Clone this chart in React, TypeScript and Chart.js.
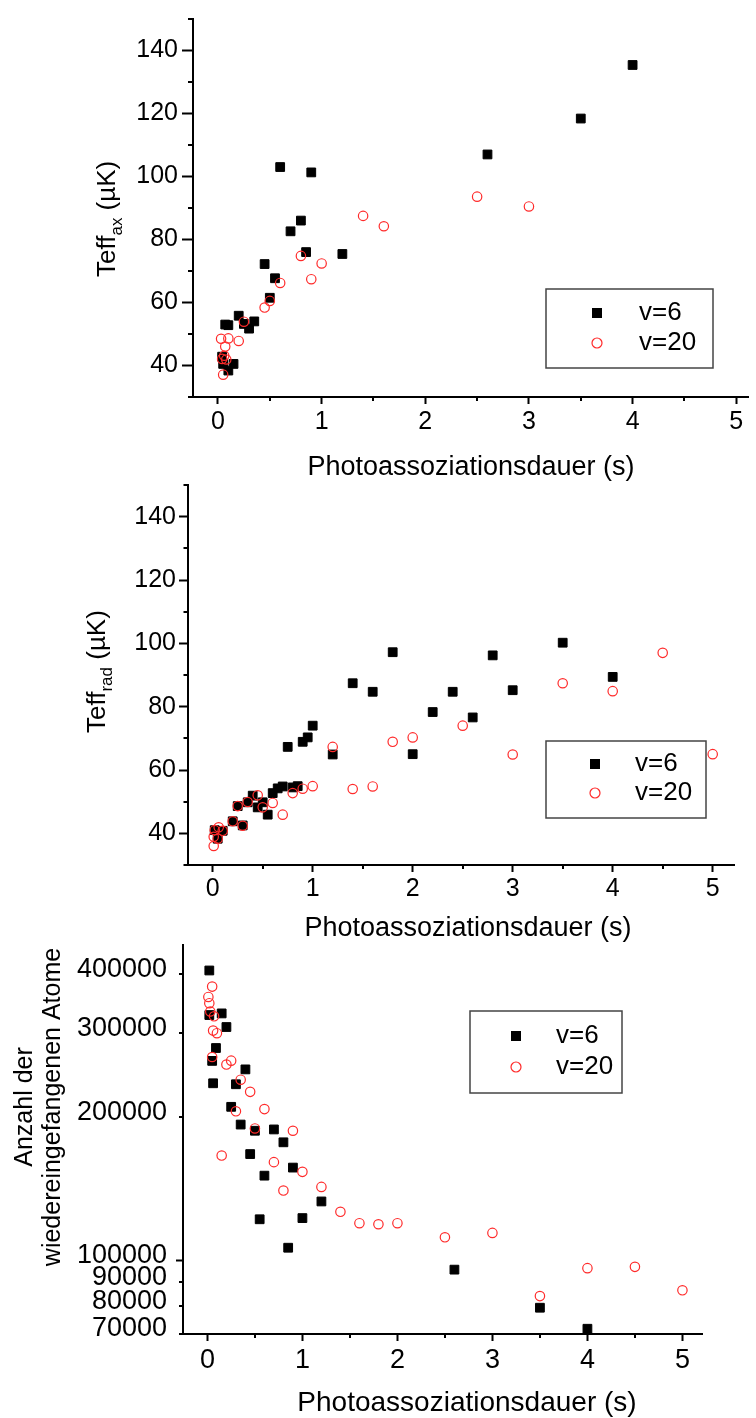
import React, { useEffect, useRef } from 'react';
import { Chart, registerables } from 'chart.js';

Chart.register(...registerables);

const FONT_FAMILY = '"Liberation Sans", Arial, Helvetica, sans-serif';
const RED = '#ff2a2a';
const PAGE_W = 756;

// Axial effective temperature (µK) vs. photoassociation time (s)
const axDurationV6 = [0.04, 0.05, 0.1, 0.15, 0.07, 0.1, 0.2, 0.25, 0.3, 0.35, 0.45, 0.5, 0.55, 0.6, 0.7, 0.8, 0.85, 0.9, 1.2, 2.6, 3.5, 4.0];
const axTempV6 = [42.8, 40.5, 38.4, 40.5, 53.0, 52.8, 55.8, 53.2, 51.7, 54.0, 72.2, 61.5, 67.7, 103.0, 82.6, 86.0, 76.0, 101.3, 75.4, 107.0, 118.4, 135.4];
const axDurationV20 = [0.03, 0.05, 0.04, 0.06, 0.07, 0.08, 0.1, 0.2, 0.25, 0.45, 0.5, 0.6, 0.8, 0.9, 1.0, 1.4, 1.6, 2.5, 3.0];
const axTempV20 = [48.5, 37.1, 42.1, 43.1, 46.0, 41.9, 48.6, 47.8, 53.9, 58.4, 60.5, 66.2, 74.8, 67.4, 72.4, 87.5, 84.2, 93.6, 90.5];

// Radial effective temperature (µK)
const radDurationV6 = [0.02, 0.05, 0.1, 0.2, 0.25, 0.3, 0.35, 0.4, 0.45, 0.5, 0.55, 0.6, 0.65, 0.7, 0.75, 0.8, 0.85, 0.9, 0.95, 1.0, 1.2, 1.4, 1.6, 1.8, 2.0, 2.2, 2.4, 2.6, 2.8, 3.0, 3.5, 4.0];
const radTempV6 = [41.0, 38.3, 40.8, 43.8, 48.6, 42.5, 49.8, 51.9, 48.2, 49.8, 45.9, 52.7, 54.2, 54.8, 67.3, 54.5, 54.9, 68.9, 70.3, 74.0, 64.9, 87.4, 84.7, 97.2, 65.0, 78.3, 84.7, 76.6, 96.2, 85.2, 100.2, 89.4];
const radDurationV20 = [0.01, 0.01, 0.05, 0.02, 0.06, 0.1, 0.2, 0.25, 0.3, 0.35, 0.45, 0.5, 0.6, 0.7, 0.8, 0.9, 1.0, 1.2, 1.4, 1.6, 1.8, 2.0, 2.5, 3.0, 3.5, 4.0, 4.5, 5.0];
const radTempV20 = [36.0, 38.9, 38.3, 41.0, 41.9, 40.8, 43.8, 48.6, 42.4, 49.9, 52.0, 48.2, 49.6, 45.9, 52.7, 54.1, 54.9, 67.3, 54.0, 54.8, 68.9, 70.3, 74.0, 64.9, 87.4, 84.9, 97.0, 65.0];

// Number of recaptured atoms
const atomsDurationV6 = [0.02, 0.02, 0.05, 0.06, 0.09, 0.15, 0.2, 0.25, 0.3, 0.35, 0.4, 0.45, 0.5, 0.55, 0.6, 0.7, 0.8, 0.85, 0.9, 1.0, 1.2, 2.6, 3.5, 4.0];
const atomsCountV6 = [407000, 328000, 262700, 235700, 279600, 330600, 309500, 210300, 234600, 193000, 252100, 167300, 187300, 122000, 150700, 188500, 177100, 106300, 156700, 122700, 133000, 95600, 79500, 71800];
const atomsDurationV20 = [0.01, 0.02, 0.03, 0.05, 0.05, 0.06, 0.07, 0.1, 0.15, 0.2, 0.25, 0.3, 0.35, 0.45, 0.5, 0.6, 0.7, 0.8, 0.9, 1.0, 1.2, 1.4, 1.6, 1.8, 2.0, 2.5, 3.0, 3.5, 4.0, 4.5, 5.0];
const atomsCountV20 = [358000, 347400, 333700, 376400, 267700, 304200, 326000, 300400, 166100, 258100, 263000, 205800, 239800, 226100, 189400, 208000, 160900, 140200, 187300, 153500, 142700, 126500, 119700, 119100, 119700, 111800, 114200, 84100, 96300, 96900, 86500];

// Axis ticks and labels
const durationTicks = [0, 1, 2, 3, 4, 5];
const durationMinorTicks = [0.5, 1.5, 2.5, 3.5, 4.5];
const tempTicks = [40, 60, 80, 100, 120, 140];
const tempMinorTicks = [30, 50, 70, 90, 110, 130, 150];
const atomTicks = [70000, 80000, 90000, 100000, 200000, 300000, 400000];
const atomMinorTicks = [70000, 80000, 90000, 200000, 300000, 400000];
const seriesLabels = ['v=6', 'v=20'];
const durationTitle = 'Photoassoziationsdauer (s)';
const axTitleParts = [
  { text: 'Teff', sub: false },
  { text: 'ax', sub: true },
  { text: ' (\u00b5K)', sub: false },
];
const radTitleParts = [
  { text: 'Teff', sub: false },
  { text: 'rad', sub: true },
  { text: ' (\u00b5K)', sub: false },
];
const atomsTitleLines = ['Anzahl der', 'wiedereingefangenen Atome'];

type TitlePart = { text: string; sub: boolean };

interface PanelSpec {
  top: number;
  height: number;
  area: { left: number; right: number; top: number; bottom: number };
  xRange: [number, number];
  yType: 'linear' | 'logarithmic';
  yRange: [number, number];
  yTicks: number[];
  yMinor: number[];
  yMajorLen: number;
  yMinorLen: number;
  yLabelPad: number;
  yLabelOffset: number;
  yMajorOnly?: number[];
  xMajorLen: number;
  xMinorLen: number;
  xLabelPad: number;
  tickSize: number;
  titleSize: number;
  xTitlePos: { x: number; y: number };
  yTitle: { x: number; y: number; parts?: TitlePart[]; lines?: string[]; lineXs?: number[]; size: number; subSize: number; subDrop: number };
  legend: { x0: number; y0: number; x1: number; y1: number; symX: number; rows: [number, number]; textX: number; size: number };
  v6: { x: number[]; y: number[] };
  v20: { x: number[]; y: number[] };
}

const panels: PanelSpec[] = [
  {
    top: 0,
    height: 490,
    area: { left: 193, right: 756, top: 11, bottom: 397 },
    xRange: [-0.241, 5.121],
    yType: 'linear',
    yRange: [30, 150],
    yTicks: tempTicks,
    yMinor: tempMinorTicks,
    yMajorLen: 11,
    yMinorLen: 5,
    yLabelPad: 4,
    yLabelOffset: 0,
    xMajorLen: 7,
    xMinorLen: 4,
    xLabelPad: 3,
    tickSize: 25,
    titleSize: 27,
    xTitlePos: { x: 471, y: 468 },
    yTitle: { x: 115, y: 277, parts: axTitleParts, size: 26, subSize: 17, subDrop: 7 },
    legend: { x0: 546, y0: 289, x1: 713, y1: 368, symX: 597, rows: [313, 343], textX: 639, size: 26 },
    v6: { x: axDurationV6, y: axTempV6 },
    v20: { x: axDurationV20, y: axTempV20 },
  },
  {
    top: 460,
    height: 490,
    area: { left: 188, right: 734, top: 25, bottom: 405 },
    xRange: [-0.247, 5.213],
    yType: 'linear',
    yRange: [30, 150],
    yTicks: tempTicks,
    yMinor: tempMinorTicks,
    yMajorLen: 9,
    yMinorLen: 4.5,
    yLabelPad: 3,
    yLabelOffset: 0,
    xMajorLen: 7,
    xMinorLen: 4,
    xLabelPad: 2,
    tickSize: 25,
    titleSize: 27,
    xTitlePos: { x: 468, y: 469 },
    yTitle: { x: 105, y: 273, parts: radTitleParts, size: 26, subSize: 17, subDrop: 7 },
    legend: { x0: 546, y0: 281, x1: 706, y1: 358, symX: 595, rows: [304, 333], textX: 635, size: 26 },
    v6: { x: radDurationV6, y: radTempV6 },
    v20: { x: radDurationV20, y: radTempV20 },
  },
  {
    top: 920,
    height: 498,
    area: { left: 183, right: 702, top: 13, bottom: 414 },
    xRange: [-0.257, 5.206],
    yType: 'logarithmic',
    yRange: [70000, 460000],
    yTicks: atomTicks,
    yMinor: atomMinorTicks,
    yMajorOnly: [100000],
    yMajorLen: 7,
    yMinorLen: 4,
    yLabelPad: 9,
    yLabelOffset: -5,
    xMajorLen: 7,
    xMinorLen: 4,
    xLabelPad: 3,
    tickSize: 27,
    titleSize: 28,
    xTitlePos: { x: 467, y: 483 },
    yTitle: { x: 0, y: 187, lines: atomsTitleLines, lineXs: [32, 60], size: 25, subSize: 0, subDrop: 0 },
    legend: { x0: 470, y0: 91, x1: 622, y1: 173, symX: 516, rows: [116, 147], textX: 556, size: 26 },
    v6: { x: atomsDurationV6, y: atomsCountV6 },
    v20: { x: atomsDurationV20, y: atomsCountV20 },
  },
];

function toPoints(xs: number[], ys: number[]) {
  return xs.map((x, i) => ({ x, y: ys[i] }));
}

function font(size: number) {
  return `${size}px ${FONT_FAMILY}`;
}

// Minor ticks, axis titles and the framed legend
function decorPlugin(spec: PanelSpec) {
  return {
    id: 'panelDecor',
    afterDraw(chart: any) {
      const { ctx, chartArea } = chart;
      const xs = chart.scales.x;
      const ys = chart.scales.y;
      ctx.save();

      ctx.strokeStyle = '#000';
      ctx.lineWidth = 2;
      ctx.beginPath();
      for (const v of durationMinorTicks) {
        const px = Math.round(xs.getPixelForValue(v));
        ctx.moveTo(px, chartArea.bottom);
        ctx.lineTo(px, chartArea.bottom + spec.xMinorLen);
      }
      for (const v of spec.yMinor) {
        const py = Math.round(ys.getPixelForValue(v));
        ctx.moveTo(chartArea.left - spec.yMinorLen, py);
        ctx.lineTo(chartArea.left, py);
      }
      ctx.stroke();

      ctx.fillStyle = '#000';
      ctx.font = font(spec.titleSize);
      ctx.textAlign = 'center';
      ctx.textBaseline = 'middle';
      ctx.fillText(durationTitle, spec.xTitlePos.x, spec.xTitlePos.y);

      const yt = spec.yTitle;
      if (yt.parts) {
        ctx.save();
        ctx.translate(yt.x, yt.y);
        ctx.rotate(-Math.PI / 2);
        ctx.textAlign = 'left';
        ctx.textBaseline = 'alphabetic';
        let cx = 0;
        for (const part of yt.parts) {
          ctx.font = font(part.sub ? yt.subSize : yt.size);
          ctx.fillText(part.text, cx, part.sub ? yt.subDrop : 0);
          cx += ctx.measureText(part.text).width;
        }
        ctx.restore();
      } else if (yt.lines && yt.lineXs) {
        yt.lines.forEach((line, i) => {
          ctx.save();
          ctx.translate(yt.lineXs![i], yt.y);
          ctx.rotate(-Math.PI / 2);
          ctx.font = font(yt.size);
          ctx.textAlign = 'center';
          ctx.textBaseline = 'alphabetic';
          ctx.fillText(line, 0, 0);
          ctx.restore();
        });
      }

      const lg = spec.legend;
      ctx.fillStyle = '#fff';
      ctx.fillRect(lg.x0, lg.y0, lg.x1 - lg.x0, lg.y1 - lg.y0);
      ctx.strokeStyle = '#444';
      ctx.lineWidth = 1.5;
      ctx.strokeRect(lg.x0, lg.y0, lg.x1 - lg.x0, lg.y1 - lg.y0);

      ctx.fillStyle = '#000';
      ctx.fillRect(lg.symX - 5, lg.rows[0] - 5, 10, 10);
      ctx.beginPath();
      ctx.arc(lg.symX, lg.rows[1], 5, 0, Math.PI * 2);
      ctx.strokeStyle = RED;
      ctx.lineWidth = 1.2;
      ctx.stroke();

      ctx.fillStyle = '#000';
      ctx.font = font(lg.size);
      ctx.textAlign = 'left';
      ctx.textBaseline = 'middle';
      ctx.fillText(seriesLabels[0], lg.textX, lg.rows[0]);
      ctx.fillText(seriesLabels[1], lg.textX, lg.rows[1]);

      ctx.restore();
    },
  };
}

function buildConfig(spec: PanelSpec): any {
  const a = spec.area;
  return {
    type: 'scatter',
    data: {
      datasets: [
        {
          label: seriesLabels[1],
          data: toPoints(spec.v20.x, spec.v20.y),
          order: 0,
          pointStyle: 'circle',
          pointRadius: 4.7,
          borderWidth: 1.2,
          borderColor: RED,
          backgroundColor: 'rgba(0,0,0,0)',
          clip: false,
        },
        {
          label: seriesLabels[0],
          data: toPoints(spec.v6.x, spec.v6.y),
          order: 1,
          pointStyle: 'rect',
          pointRadius: 6.2,
          borderWidth: 1,
          borderColor: '#000',
          backgroundColor: '#000',
          clip: false,
        },
      ],
    },
    options: {
      responsive: false,
      animation: false,
      devicePixelRatio: 1,
      events: [],
      layout: { padding: { top: a.top, right: PAGE_W - a.right, left: 0, bottom: 0 } },
      plugins: { legend: { display: false }, tooltip: { enabled: false }, title: { display: false } },
      scales: {
        x: {
          type: 'linear',
          position: 'bottom',
          min: spec.xRange[0],
          max: spec.xRange[1],
          afterBuildTicks: (s: any) => {
            s.ticks = durationTicks.map((v) => ({ value: v }));
          },
          afterFit: (s: any) => {
            s.height = spec.height - a.bottom;
          },
          border: { display: true, color: '#000', width: 2 },
          grid: { drawOnChartArea: false, drawTicks: true, tickLength: spec.xMajorLen, tickColor: '#000', tickWidth: 2 },
          ticks: {
            autoSkip: false,
            maxRotation: 0,
            color: '#000',
            padding: spec.xLabelPad,
            font: { family: FONT_FAMILY, size: spec.tickSize },
            callback: (v: any) => String(v),
          },
        },
        y: {
          type: spec.yType,
          position: 'left',
          min: spec.yRange[0],
          max: spec.yRange[1],
          afterBuildTicks: (s: any) => {
            s.ticks = spec.yTicks.map((v) => ({ value: v }));
          },
          afterFit: (s: any) => {
            s.width = a.left;
          },
          border: { display: true, color: '#000', width: 2 },
          grid: {
            drawOnChartArea: false,
            drawTicks: true,
            tickLength: spec.yMajorLen,
            tickWidth: 2,
            tickColor: (c: any) =>
              !spec.yMajorOnly || (c.tick && spec.yMajorOnly.includes(c.tick.value)) ? '#000' : 'rgba(0,0,0,0)',
          },
          ticks: {
            autoSkip: false,
            color: '#000',
            padding: spec.yLabelPad,
            labelOffset: spec.yLabelOffset,
            font: { family: FONT_FAMILY, size: spec.tickSize },
            callback: (v: any) => String(v),
          },
        },
      },
    },
    plugins: [decorPlugin(spec)],
  };
}

function Panel({ spec }: { spec: PanelSpec }) {
  const ref = useRef<HTMLCanvasElement | null>(null);
  useEffect(() => {
    if (!ref.current) return;
    const chart = new Chart(ref.current, buildConfig(spec));
    return () => chart.destroy();
  }, [spec]);
  return (
    <canvas
      ref={ref}
      width={PAGE_W}
      height={spec.height}
      style={{ position: 'absolute', left: 0, top: spec.top, width: PAGE_W, height: spec.height }}
    />
  );
}

export default function App() {
  return (
    <div style={{ position: 'absolute', left: 0, top: 0, width: PAGE_W, height: 1418, background: '#fff', overflow: 'hidden' }}>
      {panels.map((p, i) => (
        <Panel key={i} spec={p} />
      ))}
    </div>
  );
}
